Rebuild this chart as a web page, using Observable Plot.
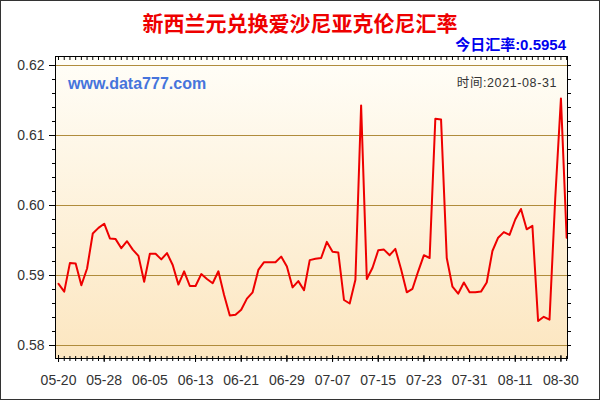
<!DOCTYPE html>
<html>
<head>
<meta charset="utf-8">
<script src="https://cdn.jsdelivr.net/npm/d3@7"></script>
<script src="https://cdn.jsdelivr.net/npm/@observablehq/plot@0.6"></script>
<style>
  body { margin: 0; background: #fff; }
  #wrap { position: relative; width: 600px; height: 400px; overflow: hidden; background: #fff; }
  #border { position: absolute; left: 0; top: 0; width: 600px; height: 400px; box-sizing: border-box; border: 1px solid #333; pointer-events: none; }
</style>
</head>
<body>
<div id="wrap"><div id="chart"></div><div id="border"></div></div>
<script>
// Daily rate values (index-based, 90 points)
const values = [
  0.5888, 0.5877, 0.5918, 0.5917, 0.5886, 0.5910, 0.5960, 0.5968, 0.5974, 0.5953,
  0.5952, 0.5939, 0.5949, 0.5937, 0.5928, 0.5891, 0.5931, 0.5931, 0.5923, 0.5932,
  0.5915, 0.5887, 0.5906, 0.5885, 0.5885, 0.5902, 0.5895, 0.5889, 0.5906, 0.5872,
  0.5843, 0.5844, 0.5851, 0.5867, 0.5876, 0.5908, 0.5919, 0.5919, 0.5919, 0.5927,
  0.5913, 0.5883, 0.5892, 0.5879, 0.5922, 0.5924, 0.5925, 0.5948, 0.5934, 0.5933,
  0.5865, 0.5860, 0.5894, 0.6143, 0.5895, 0.5911, 0.5936, 0.5937, 0.5929, 0.5938,
  0.5909, 0.5876, 0.5881, 0.5906, 0.5929, 0.5925, 0.6124, 0.6123, 0.5925, 0.5884,
  0.5874, 0.5890, 0.5876, 0.5876, 0.5877, 0.5890, 0.5935, 0.5954, 0.5962, 0.5958,
  0.5980, 0.5995, 0.5966, 0.5971, 0.5835, 0.5841, 0.5837, 0.6010, 0.6153, 0.5954
];
const tickLabels = ["05-20","05-28","06-05","06-13","06-21","06-29","07-07","07-15","07-23","07-31","08-11","08-30"];
const tickStep = 8;
const tickIdx = tickLabels.map((_, i) => i * tickStep);
const yGrid = [0.58, 0.59, 0.60, 0.61, 0.62];
const yMinor = [0.58,0.582,0.584,0.586,0.588,0.59,0.592,0.594,0.596,0.598,0.60,0.602,0.604,0.606,0.608,0.61,0.612,0.614,0.616,0.618,0.62];
const xMinor = values.map((_, i) => i);
const titleText = "新西兰元兑换爱沙尼亚克伦尼汇率";
const rateText = "今日汇率:0.5954";
const siteText = "www.data777.com";
const timeText = "时间:2021-08-31";

const empty = () => "";
const svg = Plot.plot({
  width: 600, height: 400,
  marginLeft: 55, marginRight: 33, marginTop: 56, marginBottom: 42,
  style: { fontFamily: "'Liberation Sans', Arial, sans-serif", fontSize: "14px", color: "#000", background: "transparent", overflow: "visible" },
  x: { domain: [-0.53, 89.15], axis: null },
  y: { domain: [0.578143, 0.621286], axis: null },
  marks: [
    Plot.frame({ fill: "url(#bgGrad)" }),
    Plot.ruleY(yGrid, { stroke: "#b08c3c", strokeWidth: 1 }),
    Plot.line(values, { x: (d, i) => i, y: d => d, stroke: "#ee0000", strokeWidth: 2, strokeLinejoin: "round" }),
    Plot.frame({ stroke: "#000" }),
    Plot.axisY({ ticks: yGrid, tickSize: 6, tickPadding: 5, tickFormat: d3.format(".2f"), label: null, fill: "#333" }),
    Plot.axisY({ ticks: yMinor, tickSize: 3, tickFormat: empty, label: null }),
    Plot.axisY({ anchor: "right", ticks: yMinor, tickSize: 3, tickFormat: empty, label: null }),
    Plot.axisX({ ticks: tickIdx, tickSize: 7, tickPadding: 13, dy: -3, tickFormat: i => tickLabels[i / tickStep], label: null, fill: "#333" }),
    Plot.axisX({ ticks: xMinor, tickSize: 5, dy: -2, tickFormat: empty, label: null }),
    Plot.axisX({ anchor: "top", ticks: xMinor, tickSize: 3, dy: 3, tickFormat: empty, label: null })
  ]
});

const s = d3.select(svg);
const defs = s.insert("defs", ":first-child");
const grad = defs.append("linearGradient").attr("id", "bgGrad").attr("x1", 0).attr("y1", 0).attr("x2", 0).attr("y2", 1);
grad.append("stop").attr("offset", "0%").attr("stop-color", "#fffef8");
grad.append("stop").attr("offset", "100%").attr("stop-color", "#fce6c0");

s.append("text").attr("x", 300).attr("y", 31).attr("text-anchor", "middle")
  .style("font-family", "'Noto Sans CJK SC', sans-serif").style("font-weight", "bold").style("font-size", "21px")
  .attr("fill", "#ee0000").text(titleText);
s.append("text").attr("x", 566).attr("y", 50).attr("text-anchor", "end")
  .style("font-family", "'Liberation Sans', 'Noto Sans CJK SC', sans-serif").style("font-weight", "bold").style("font-size", "15px")
  .attr("fill", "#0000ee").text(rateText);
s.append("text").attr("x", 68).attr("y", 89).attr("text-anchor", "start")
  .style("font-family", "'Liberation Sans', Arial, sans-serif").style("font-weight", "bold").style("font-size", "16px")
  .attr("fill", "#4674dc").text(siteText);
s.append("text").attr("x", 557).attr("y", 87).attr("text-anchor", "end")
  .style("font-family", "'Liberation Sans', 'Noto Sans CJK SC', sans-serif").style("font-size", "12.5px").style("letter-spacing", "0.6px")
  .attr("fill", "#333").text(timeText);

document.getElementById("chart").appendChild(svg);
</script>
</body>
</html>
